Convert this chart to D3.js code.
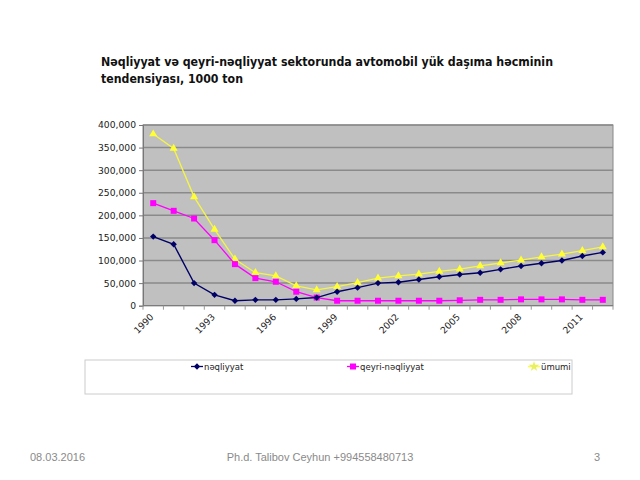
<!DOCTYPE html>
<html>
<head>
<meta charset="utf-8">
<script src="https://cdn.jsdelivr.net/npm/d3@7"></script>
<style>
  html, body { margin: 0; padding: 0; background: #fff; }
  svg { display: block; }
</style>
</head>
<body>
<svg id="chart" width="640" height="480"></svg>
<script>
const years = d3.range(1990, 2013).map(String);
const tickLabels = ["1990","1993","1996","1999","2002","2005","2008","2011"];
const yTicks = [0,50000,100000,150000,200000,250000,300000,350000,400000];
const naqliyyat = [153000,136000,50000,24000,11000,13000,13000,15000,18000,31000,40000,50000,52000,58000,64000,69000,73000,80500,88000,94000,100000,110000,118000];
const qeyriNaqliyyat = [227000,210000,193000,145000,92000,61000,53000,31000,18000,11000,11000,11000,11000,11000,11000,12000,13000,13000,14000,14000,14000,13000,13000];
const umumi = [380000,348000,241000,169000,103000,73000,66000,44000,35000,42000,51000,61000,66000,70000,76000,81000,88000,94500,101000,108000,114000,122000,130000];
const seriesNames = ["nəqliyyat","qeyri-nəqliyyat","ümumi"];

const svg = d3.select("#chart");
const font = "'DejaVu Sans', Tahoma, sans-serif";

// Title
svg.append("text").attr("x", 101).attr("y", 66)
  .attr("font-family", font).attr("font-weight", "bold").attr("font-size", 12.5)
  .attr("fill", "#111").attr("textLength", 452).attr("lengthAdjust", "spacingAndGlyphs")
  .text("Nəqliyyat və qeyri-nəqliyyat sektorunda avtomobil yük daşıma həcminin");
svg.append("text").attr("x", 101).attr("y", 83)
  .attr("font-family", font).attr("font-weight", "bold").attr("font-size", 12.5)
  .attr("fill", "#111").attr("textLength", 142).attr("lengthAdjust", "spacingAndGlyphs")
  .text("tendensiyası, 1000 ton");

const L = 143, R = 613, T = 125, B = 305.7;
const x = d3.scaleBand().domain(years).range([L, R]);
const y = d3.scaleLinear().domain([0, 400000]).range([B, T]);
const cx = d => x(d) + x.bandwidth() / 2;

// plot background
svg.append("rect").attr("x", L).attr("y", T).attr("width", R - L).attr("height", B - T)
  .attr("fill", "#c0c0c0").attr("stroke", "#888").attr("stroke-width", 1);

// grid lines
svg.append("g").selectAll("line").data(yTicks.filter(v => v > 0)).join("line")
  .attr("x1", L).attr("x2", R).attr("y1", d => y(d)).attr("y2", d => y(d))
  .attr("stroke", "#8a8a8a").attr("stroke-width", 1.5);

// Y axis
const yAxis = svg.append("g").attr("transform", `translate(${L},0)`)
  .call(d3.axisLeft(y).tickValues(yTicks).tickFormat(d3.format(",")).tickSize(4).tickPadding(3));
yAxis.select(".domain").attr("stroke", "#777");
yAxis.selectAll(".tick line").attr("stroke", "#777");
yAxis.selectAll("text").attr("font-family", font).attr("font-size", 9.2).attr("fill", "#222");

// X axis: ticks at category boundaries
const xg = svg.append("g").attr("transform", `translate(0,${B})`);
xg.append("line").attr("x1", L).attr("x2", R).attr("stroke", "#777");
xg.selectAll("line.tk").data(years.concat(["end"])).join("line").attr("class", "tk")
  .attr("x1", (d, i) => L + i * x.bandwidth()).attr("x2", (d, i) => L + i * x.bandwidth())
  .attr("y1", 0).attr("y2", 4).attr("stroke", "#999");
xg.selectAll("text").data(tickLabels).join("text")
  .attr("transform", d => `translate(${cx(d) + 1},${12}) rotate(-45)`)
  .attr("text-anchor", "end").attr("font-family", font).attr("font-size", 9.2).attr("fill", "#222")
  .text(d => d);

// Lines
const series = [
  {name: seriesNames[0], values: naqliyyat, color: "#000066", marker: "diamond"},
  {name: seriesNames[1], values: qeyriNaqliyyat, color: "#ff00ff", marker: "square"},
  {name: seriesNames[2], values: umumi, color: "#ffff33", marker: "triangle"}
];
const line = d3.line().x((d, i) => cx(years[i])).y(d => y(d));
const symbolOf = {
  diamond: d3.symbol().type(d3.symbolDiamond2).size(26),
  square: d3.symbol().type(d3.symbolSquare).size(36),
  triangle: d3.symbol().type(d3.symbolTriangle).size(28)
};

series.slice().reverse().forEach(s => {
  svg.append("path").datum(s.values).attr("d", line)
    .attr("fill", "none").attr("stroke", s.color === "#ffff33" ? "#f5f545" : s.color)
    .attr("stroke-width", s.color === "#000066" ? 1.4 : 1.3);
  svg.append("g").selectAll("path").data(s.values).join("path")
    .attr("transform", (d, i) => `translate(${cx(years[i])},${y(d)})`)
    .attr("d", symbolOf[s.marker]()).attr("fill", s.color);
});

// Legend box
svg.append("rect").attr("x", 85).attr("y", 360).attr("width", 487).attr("height", 34)
  .attr("fill", "#fff").attr("stroke", "#ccc").attr("stroke-width", 1);
const legendPos = [197, 353, 534];
const lg = svg.append("g");
series.forEach((s, i) => {
  const gx = legendPos[i], gy = 366.5;
  lg.append("line").attr("x1", gx - 6).attr("x2", gx + 6).attr("y1", gy).attr("y2", gy)
    .attr("stroke", s.color).attr("stroke-width", 1.3);
  const sym = s.marker === "triangle" ? d3.symbol().type(d3.symbolStar).size(34)
    : symbolOf[s.marker];
  lg.append("path").attr("transform", `translate(${gx},${gy})`).attr("d", sym())
    .attr("fill", s.marker === "triangle" ? "#e8f060" : s.color);
  lg.append("text").attr("x", gx + 7).attr("y", gy + 3)
    .attr("font-family", font).attr("font-size", 8.5).attr("fill", "#222").text(s.name);
});

// Footer
const ff = "'Liberation Sans', Arial, sans-serif";
svg.append("text").attr("x", 30).attr("y", 461).attr("font-family", ff).attr("font-size", 11)
  .attr("fill", "#8a8a8a").text("08.03.2016");
svg.append("text").attr("x", 320).attr("y", 461).attr("text-anchor", "middle").attr("font-family", ff)
  .attr("font-size", 11).attr("fill", "#8a8a8a").text("Ph.d. Talibov Ceyhun +994558480713");
svg.append("text").attr("x", 600).attr("y", 461).attr("text-anchor", "end").attr("font-family", ff)
  .attr("font-size", 11).attr("fill", "#8a8a8a").text("3");
</script>
</body>
</html>
